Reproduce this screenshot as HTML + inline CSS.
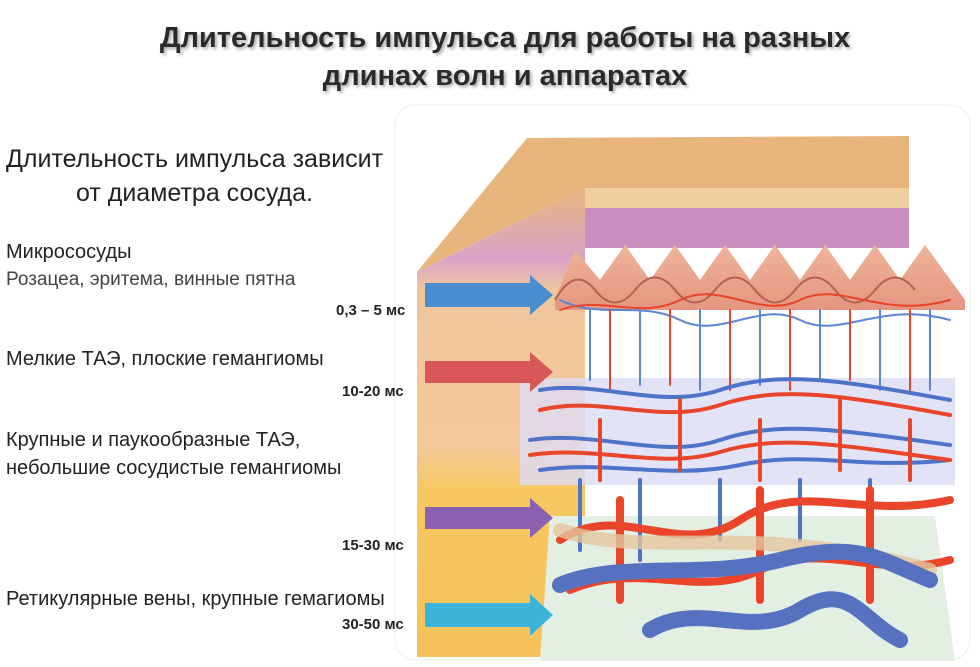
<!DOCTYPE html>
<html><head><meta charset="utf-8"><style>
body{margin:0;width:980px;height:667px;background:#fff;position:relative;overflow:hidden;font-family:"Liberation Sans","DejaVu Sans",sans-serif;}
.t{position:absolute;white-space:nowrap;color:#222;}
.title{font-weight:bold;font-size:29px;color:#2a2a2a;text-shadow:2px 2px 3px #aaa;text-align:center;width:1010px;left:0;}
.ms{font-size:15px;font-weight:bold;color:#222;}
</style></head><body>
<svg width="980" height="667" style="position:absolute;left:0;top:0">
<defs>
<linearGradient id="lf" x1="0" y1="0" x2="0" y2="1">
<stop offset="0" stop-color="#e8b680"/><stop offset="0.15" stop-color="#d9a4c8"/><stop offset="0.22" stop-color="#f0c79c"/><stop offset="0.55" stop-color="#f3c89a"/><stop offset="0.65" stop-color="#f7c860"/><stop offset="1" stop-color="#f5c25a"/></linearGradient>
<linearGradient id="pk" x1="0" y1="0" x2="0" y2="1"><stop offset="0" stop-color="#f0b39a"/><stop offset="1" stop-color="#e49680"/></linearGradient>
</defs>
<rect x="395" y="105" width="575" height="555" rx="20" fill="#fff" stroke="#eee"/>
<polygon points="417,272 527,138 909,136 909,188 585,188" fill="#e8b57c"/>
<rect x="585" y="188" width="324" height="20" fill="#f0cfa0"/>
<rect x="585" y="208" width="324" height="40" fill="#c98ec0"/>
<polygon points="417,272 585,188 585,657 417,657" fill="url(#lf)"/>
<path d="M555,300 L575,250 600,280 625,245 650,280 675,245 700,280 725,245 750,280 775,245 800,280 825,245 850,280 875,245 900,280 925,245 965,300 965,310 L555,310Z" fill="url(#pk)"/>
<path d="M555,300 q20,-35 40,-10 t40,0 t40,0 t40,0 t40,0 t40,0 t40,0 t40,0 t40,0" fill="none" stroke="#b5624f" stroke-width="2"/>
<polygon points="520,378 955,378 955,485 520,485" fill="#dcdcf5" opacity="0.8"/>
<polygon points="550,516 935,516 955,661 540,661" fill="#e4efe4"/>
<g fill="none" stroke-linecap="round">
<g stroke="#5b86d6" stroke-width="2">
<path d="M560,300 C600,320 640,300 680,320 S760,300 800,320 880,300 950,320"/>
<path d="M590,310 v70 M640,310 v75 M700,310 v80 M760,310 v75 M820,310 v70 M880,310 v80 M930,310 v80"/>
</g>
<g stroke="#e8452a" stroke-width="2">
<path d="M560,310 C600,295 640,320 680,300 S760,320 800,300 880,320 950,300"/>
<path d="M610,310 v80 M670,310 v75 M730,310 v80 M790,310 v80 M850,310 v70 M910,310 v80"/>
</g>
<g stroke="#4d74c8" stroke-width="4">
<path d="M540,390 C600,380 660,410 720,390 S840,380 950,400"/>
<path d="M530,440 C600,430 660,460 720,440 S840,430 950,445"/>
<path d="M540,470 C610,460 670,480 740,465 S860,470 950,460"/>
<path d="M580,480 v70 M640,480 v80 M720,480 v60 M800,480 v60 M870,480 v70"/>
</g>
<g stroke="#e8452a" stroke-width="4">
<path d="M540,410 C600,395 660,425 720,405 S840,395 950,415"/>
<path d="M530,455 C600,445 660,470 720,452 S840,445 950,460"/>
<path d="M600,420 v60 M680,400 v70 M760,420 v60 M840,400 v70 M910,420 v60"/>
</g>
<g stroke="#e8452a" stroke-width="8">
<path d="M560,540 C620,500 680,560 740,520 S860,520 950,500"/>
<path d="M570,590 C640,560 700,600 760,570 S880,580 950,560"/>
<path d="M620,500 v100 M760,490 v110 M870,490 v110"/>
</g>
<g stroke="#e3c59e" stroke-width="14" opacity="0.8"><path d="M560,530 C650,560 750,520 930,570"/></g>
<g stroke="#5671c0" stroke-width="16">
<path d="M560,585 C620,560 700,580 780,560 S880,560 930,580"/>
<path d="M650,630 C700,600 750,640 800,610 S860,620 900,640"/>
</g>
</g>
<polygon points="425,283 530,283 530,275 553,295 530,315 530,307 425,307" fill="#4a8ed0"/>
<polygon points="425,361 530,361 530,352 553,372 530,392 530,383 425,383" fill="#d8585a"/>
<polygon points="425,507 530,507 530,498 553,518 530,538 530,529 425,529" fill="#8a62b0"/>
<polygon points="425,603 530,603 530,594 553,615 530,636 530,627 425,627" fill="#3bb4d8"/>
</svg>
<div class="t title" style="top:22px">Длительность импульса для работы на разных</div>
<div class="t title" style="top:60px">длинах волн и аппаратах</div>
<div class="t" style="left:6px;top:145px;font-size:25px">Длительность импульса зависит</div>
<div class="t" style="left:76px;top:179px;font-size:25px">от диаметра сосуда.</div>
<div class="t" style="left:6px;top:241px;font-size:20px">Микрососуды</div>
<div class="t" style="left:6px;top:269px;font-size:19px;color:#444">Розацеа, эритема, винные пятна</div>
<div class="t ms" style="left:336px;top:302px">0,3 – 5 мс</div>
<div class="t" style="left:6px;top:348px;font-size:20px">Мелкие ТАЭ, плоские гемангиомы</div>
<div class="t ms" style="left:342px;top:383px">10-20 мс</div>
<div class="t" style="left:6px;top:429px;font-size:20px">Крупные и паукообразные ТАЭ,</div>
<div class="t" style="left:6px;top:457px;font-size:20px">небольшие сосудистые гемангиомы</div>
<div class="t ms" style="left:342px;top:537px">15-30 мс</div>
<div class="t" style="left:6px;top:588px;font-size:20px">Ретикулярные вены, крупные гемагиомы</div>
<div class="t ms" style="left:342px;top:616px">30-50 мс</div>
</body></html>
